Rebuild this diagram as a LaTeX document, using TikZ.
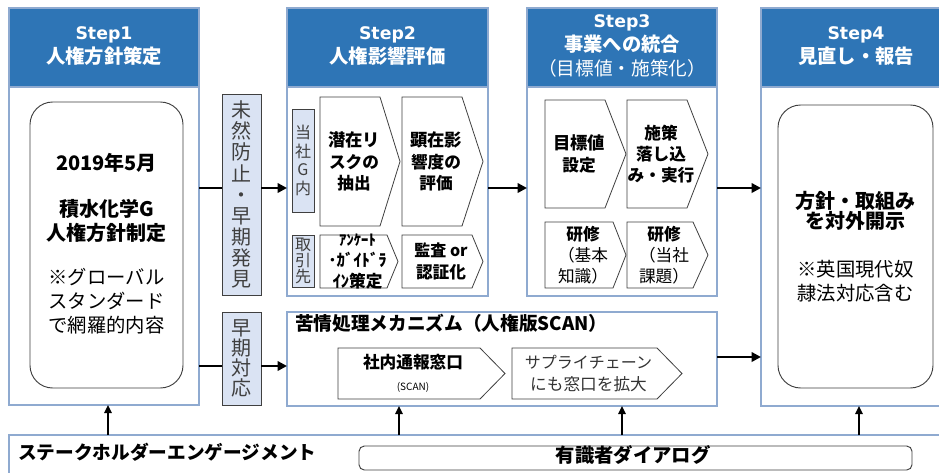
\documentclass[tikz,border=0pt]{standalone}
\usepackage{fontspec}
\setmainfont{Noto Sans CJK JP}
\newfontfamily\stepfont{DejaVu Sans}
\usetikzlibrary{arrows.meta}
\definecolor{hdr}{HTML}{2E75B6}
\definecolor{frm}{HTML}{8FAAD0}
\definecolor{lbl}{HTML}{DAE3F3}
\definecolor{ink}{HTML}{404040}
\newcommand\fz[2]{\fontsize{#1}{#2}\selectfont}
\newcommand\boxnode[6]{\node[#6, anchor=north west, inner sep=0pt, outer sep=0pt,
  minimum width={(#4-#2)*0.75pt}, minimum height={(#5-#3)*0.75pt}] (#1) at (#2,#3) {};}
\newcommand\chev[7]{%
  \draw[chevline] (#2,#3) -- (#4,#3) -- (#5,{(#3+#6)/2}) -- (#4,#6) -- (#2,#6) -- cycle;
  \node[txt] (#1) at ({(#2+#4)/2+4},{(#3+#6)/2}) {#7};}
\tikzset{
  frame/.style={draw=frm, line width=0.8pt},
  hdrbox/.style={fill=hdr, draw=frm, line width=0.8pt},
  lab/.style={draw=ink, fill=lbl, line width=0.7pt},
  chevline/.style={draw=ink, line width=0.6pt, fill=white},
  rbox/.style={draw=ink, line width=0.7pt, rounded corners=17pt},
  txt/.style={align=center, inner sep=0pt, font=\bfseries\fz{12.5}{16}},
  hdrtxt/.style={align=center, inner sep=0pt, text=white, font=\bfseries\fz{14.5}{17.5}},
  conn/.style={line width=1.8pt},
  arr/.style={line width=1.8pt, -{Triangle[length=7pt,width=7pt]}},
  uparr/.style={line width=1.5pt, -{Triangle[length=6pt,width=5.5pt]}},
}
\begin{document}
\begin{tikzpicture}[x=0.75pt,y=-0.75pt]
\useasboundingbox (0,0) rectangle (939,472);
\fill[white] (0,0) rectangle (939,472);

% outer step frames
\boxnode{s1}{9}{8}{199}{405}{frame}
\boxnode{s2}{287}{8}{488}{296}{frame}
\boxnode{s3}{527}{8}{717}{296}{frame}
\boxnode{s4}{761}{8}{950}{406}{frame}
\boxnode{scan}{287}{312}{717}{406}{frame}
\boxnode{band}{9}{435}{950}{485}{frame}

% headers
\boxnode{h1}{9}{8}{199}{87}{hdrbox}
\boxnode{h2}{287}{8}{488}{87}{hdrbox}
\boxnode{h3}{527}{8}{717}{87}{hdrbox}
\boxnode{h4}{761}{8}{950}{87}{hdrbox}
\node[hdrtxt] (h1t) at (104,46) {{\stepfont\bfseries\fz{13}{17.5}Step1}\\人権方針策定};
\node[hdrtxt] (h2t) at (387.5,46) {{\stepfont\bfseries\fz{13}{17.5}Step2}\\人権影響評価};
\node[hdrtxt, font=\bfseries\fz{14.5}{18}] (h3t) at (622,46) {{\stepfont\bfseries\fz{13}{18}Step3}\\事業への統合\\{\mdseries\fz{14}{18}（目標値・施策化）}};
\node[hdrtxt] (h4t) at (856,46) {{\stepfont\bfseries\fz{13}{17.5}Step4}\\見直し・報告};

% Step1 content
\boxnode{r1}{30}{102}{183}{388}{rbox}
\node[txt, font=\bfseries\fz{15}{17.5}] (r1a) at (r1.center |- 0,163) {2019年5月};
\node[txt, font=\bfseries\fz{15}{17.5}] (r1b) at (r1.center |- 0,221) {積水化学G\\人権方針制定};
\node[txt, font=\fz{14.5}{18}] (r1c) at (r1.center |- 0,301) {※グローバル\\スタンダード\\で網羅的内容};

% Step4 content
\boxnode{r4}{778}{105}{933}{388}{rbox}
\node[txt, font=\bfseries\fz{15}{15.5}] (r4a) at (r4.center |- 0,211) {方針・取組み\\を対外開示};
\node[txt, font=\fz{14.5}{18}] (r4b) at (r4.center |- 0,281) {※英国現代奴\\隷法対応含む};

% vertical labels
\boxnode{lab1}{222}{94}{261}{295}{lab}
\boxnode{lab2}{222}{312}{261}{405}{lab}
\node[txt, font=\fz{15}{15.8}, text=ink] (lab1t) at (lab1.center) {未\\然\\防\\止\\・\\早\\期\\発\\見};
\node[txt, font=\fz{15}{15}, text=ink] (lab2t) at (lab2.center) {早\\期\\対\\応};

% Step2 content
\boxnode{t1}{292}{109}{314}{212}{lab}
\boxnode{t2}{292}{235}{314}{287}{lab}
\node[txt, font=\fz{12}{14}, text=ink] (t1t) at (t1.center) {当\\社\\G\\内};
\node[txt, font=\fz{12}{12.2}, text=ink] (t2t) at (t2.center) {取\\引\\先};
\chev{c21}{320}{97}{380}{400}{226}{\fz{13}{16}潜在リ\\スクの\\抽出}
\chev{c22}{402}{97}{462}{483}{226}{\fz{13}{16}顕在影\\響度の\\評価}
\chev{c23}{320}{235}{387}{398}{288}{\fz{11}{12.8}ｱﾝｹｰﾄ\\･ｶﾞｲﾄﾞﾗ\\ｲﾝ策定}
\chev{c24}{402}{235}{472}{483}{288}{\fz{12}{15}監査 or\\認証化}

% Step3 content
\chev{c31}{545}{100}{605}{626}{208}{\fz{13}{16}目標値\\設定}
\chev{c32}{627}{100}{687}{708}{208}{\fz{12.5}{15.5}施策\\落し込\\み・実行}
\chev{c33}{545}{222}{613}{626}{288}{\fz{12.5}{15}研修\\{\mdseries （基本}\\{\mdseries 知識）}}
\chev{c34}{627}{222}{693}{708}{288}{\fz{12.5}{15}研修\\{\mdseries （当社}\\{\mdseries 課題）}}

% SCAN
\node[txt, anchor=west, font=\bfseries\fz{14}{16}] (scant) at (295,323) {苦情処理メカニズム（人権版SCAN）};
\chev{c51}{338}{348}{480}{505}{399}{\fz{12.5}{12}社内通報窓口\\[1pt]{\mdseries\fz{7.5}{9}(SCAN)}}
\chev{c52}{512}{348}{657}{682}{399}{\fz{12}{14.5}{\mdseries\color{black!80}サプライチェーン}\\{\mdseries\color{black!80}にも窓口を拡大}}

% bottom
\node[txt, anchor=west, font=\bfseries\fz{14}{16}] (sh) at (18,452) {ステークホルダーエンゲージメント};
\boxnode{r5}{359}{446}{912}{470}{draw=ink, line width=0.7pt, rounded corners=4pt}
\node[txt, font=\bfseries\fz{14.5}{16}] (r5t) at (633,455) {有識者ダイアログ};

% connectors
\coordinate (yA) at (0,188);
\coordinate (yB) at (0,366);
\coordinate (yC) at (0,357);
\draw[conn] (s1.east |- yA) -- (lab1.west |- yA);
\draw[arr] (lab1.east |- yA) -- (s2.west |- yA);
\draw[conn] (s1.east |- yB) -- (lab2.west |- yB);
\draw[arr] (lab2.east |- yB) -- (scan.west |- yB);
\draw[arr] (s2.east |- yA) -- (s3.west |- yA);
\draw[arr] (s3.east |- yA) -- (s4.west |- yA);
\draw[arr] (scan.east |- yC) -- (s4.west |- yC);

\coordinate (x1) at (108,0);
\coordinate (x2) at (399,0);
\coordinate (x3) at (622,0);
\coordinate (x4) at (859,0);
\draw[uparr] (band.north -| x1) -- (s1.south -| x1);
\draw[uparr] (band.north -| x2) -- (scan.south -| x2);
\draw[uparr] (band.north -| x3) -- (scan.south -| x3);
\draw[uparr] (band.north -| x4) -- (s4.south -| x4);
\end{tikzpicture}
\end{document}
